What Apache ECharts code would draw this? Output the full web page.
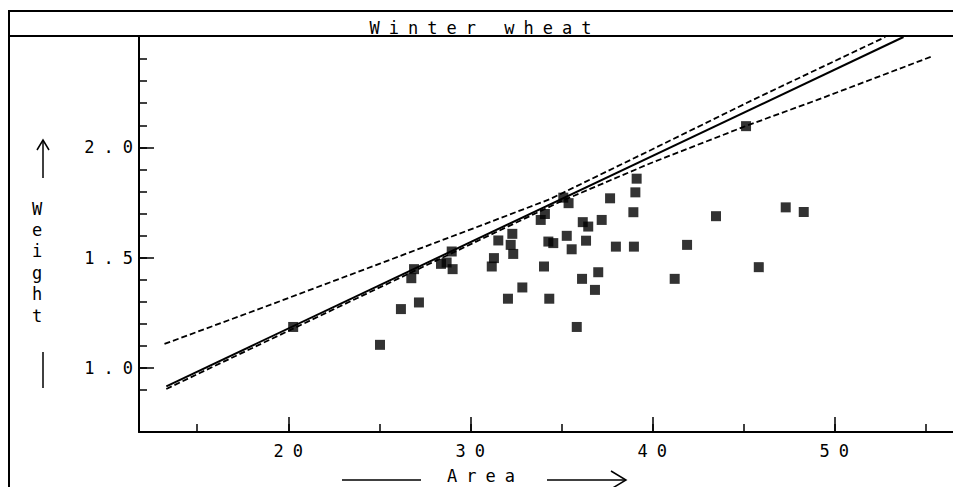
<!DOCTYPE html>
<html>
<head>
<meta charset="utf-8">
<script src="https://cdn.jsdelivr.net/npm/echarts@6/dist/echarts.min.js"></script>
<style>
    html, body { margin: 0; padding: 0; background: #fff; }
    #chart { width: 953px; height: 487px; }
    /* plotter font is very wide, fake it with letter spacing */
    #chart text { letter-spacing: 9px; }
</style>
</head>
<body>
<div id="chart"></div>
<script>
const area = [20.27, 25.04, 26.19, 26.76, 26.91, 27.18, 28.39, 28.7, 28.98, 29.03,
    31.18, 31.3, 31.54, 32.07, 32.22, 32.31, 32.36, 32.86, 33.87, 34.05,
    34.1, 34.29, 34.34, 34.56, 35.11, 35.3, 35.4, 35.57, 35.85, 36.14,
    36.18, 36.36, 36.48, 36.85, 37.03, 37.22, 37.68, 38.0, 38.96, 38.99,
    39.07, 39.14, 41.23, 41.91, 43.5, 45.15, 45.85, 47.33, 48.32];
const weight = [1.186, 1.105, 1.267, 1.407, 1.448, 1.297, 1.472, 1.478, 1.528, 1.448,
    1.46, 1.498, 1.578, 1.314, 1.558, 1.608, 1.517, 1.365, 1.671, 1.46,
    1.698, 1.573, 1.314, 1.566, 1.772, 1.599, 1.747, 1.538, 1.186, 1.404,
    1.661, 1.577, 1.641, 1.354, 1.434, 1.671, 1.769, 1.55, 1.706, 1.55,
    1.796, 1.858, 1.404, 1.558, 1.688, 2.096, 1.457, 1.728, 1.707];

// fitted line and the two dashed curves
const fitArea = [13.3, 53.8];
const fitWeight = [0.917, 2.5];
const upperArea = [13.2, 19, 25, 30.53, 34.37, 39.9, 45.5, 52.8];
const upperWeight = [1.109, 1.286, 1.472, 1.644, 1.765, 1.987, 2.214, 2.5];
const lowerArea = [13.3, 24, 35, 39.9, 45.15, 49.03, 55.3];
const lowerWeight = [0.905, 1.325, 1.756, 1.928, 2.097, 2.214, 2.41];

const xMinor = [15, 20, 25, 30, 35, 40, 45, 50, 55];
const xMajor = [20, 30, 40, 50];
const yMinor = [0.9, 1.0, 1.1, 1.2, 1.3, 1.4, 1.5, 1.6, 1.7, 1.8, 1.9, 2.0, 2.1, 2.2, 2.3, 2.4];
const yMajor = [1.0, 1.5, 2.0];

const font = '"DejaVu Sans Mono", monospace';

function pairs(xs, ys) {
    return xs.map(function (x, i) { return [x, ys[i]]; });
}

let chart = echarts.init(document.getElementById('chart'), null, { renderer: 'svg' });
let option = {
    animation: false,
    backgroundColor: '#fff',
    title: {
        text: 'Winter wheat',
        left: 480,
        textAlign: 'center',
        top: 14,
        textStyle: { fontFamily: font, fontSize: 17, fontWeight: 'normal', color: '#000' }
    },
    grid: { left: 139, right: 0, top: 37, bottom: 55 },
    xAxis: [{
        type: 'value',
        min: 11.8,
        max: 56.52,
        position: 'bottom',
        axisLine: { show: true, lineStyle: { color: '#000', width: 2 } },
        axisTick: { show: true, inside: true, length: 8, customValues: xMinor, lineStyle: { color: '#000', width: 1.5 } },
        axisLabel: { show: false },
        splitLine: { show: false }
    }, {
        type: 'value',
        min: 11.8,
        max: 56.52,
        position: 'bottom',
        axisLine: { show: false },
        axisTick: { show: true, inside: true, length: 15, customValues: xMajor, lineStyle: { color: '#000', width: 1.5 } },
        axisLabel: {
            show: true, customValues: xMajor, margin: 10, padding: [0, 0, 0, 9],
            color: '#000', fontFamily: font, fontSize: 17
        },
        splitLine: { show: false }
    }],
    yAxis: [{
        type: 'value',
        min: 0.71,
        max: 2.5,
        position: 'left',
        axisLine: { show: true, lineStyle: { color: '#000', width: 2 } },
        axisTick: { show: true, inside: true, length: 8, customValues: yMinor, lineStyle: { color: '#000', width: 1.5 } },
        axisLabel: { show: false },
        splitLine: { show: false }
    }, {
        type: 'value',
        min: 0.71,
        max: 2.5,
        position: 'left',
        axisLine: { show: false },
        axisTick: { show: true, inside: true, length: 15, customValues: yMajor, lineStyle: { color: '#000', width: 1.5 } },
        axisLabel: {
            show: true, customValues: yMajor, margin: -3,
            formatter: function (v) { return v.toFixed(1); },
            color: '#000', fontFamily: font, fontSize: 17
        },
        splitLine: { show: false }
    }],
    graphic: [
        // outer frame and title box
        { type: 'rect', silent: true, shape: { x: 9, y: 11, width: 960, height: 490 },
          style: { fill: 'none', stroke: '#000', lineWidth: 2 } },
        { type: 'line', silent: true, shape: { x1: 9, y1: 36, x2: 953, y2: 36 },
          style: { stroke: '#000', lineWidth: 2 } },
        // y name
        { type: 'polyline', silent: true, shape: { points: [[43, 178], [43, 140]] },
          style: { stroke: '#000', lineWidth: 1.5 } },
        { type: 'polyline', silent: true, shape: { points: [[37, 150], [43, 140], [49, 150]] },
          style: { stroke: '#000', lineWidth: 1.5, fill: 'none' } },
        { type: 'text', silent: true, x: 41.5, y: 262,
          style: { text: 'W\ne\ni\ng\nh\nt', align: 'center', verticalAlign: 'middle', lineHeight: 21.4,
                   fontFamily: font, fontSize: 17, fill: '#000' } },
        { type: 'line', silent: true, shape: { x1: 43, y1: 352, x2: 43, y2: 388 },
          style: { stroke: '#000', lineWidth: 1.5 } },
        // x name
        { type: 'line', silent: true, shape: { x1: 342, y1: 480, x2: 421, y2: 480 },
          style: { stroke: '#000', lineWidth: 1.5 } },
        { type: 'text', silent: true, x: 485.5, y: 476,
          style: { text: 'Area', align: 'center', verticalAlign: 'middle',
                   fontFamily: font, fontSize: 17, fill: '#000' } },
        { type: 'line', silent: true, shape: { x1: 547, y1: 480, x2: 626, y2: 480 },
          style: { stroke: '#000', lineWidth: 1.5 } },
        { type: 'polyline', silent: true, shape: { points: [[611, 471], [626, 480], [611, 489]] },
          style: { stroke: '#000', lineWidth: 1.5, fill: 'none' } }
    ],
    series: [{
        type: 'line',
        data: pairs(fitArea, fitWeight),
        showSymbol: false,
        silent: true,
        lineStyle: { color: '#000', width: 2 }
    }, {
        type: 'line',
        data: pairs(upperArea, upperWeight),
        showSymbol: false,
        silent: true,
        lineStyle: { color: '#000', width: 1.8, type: [6, 3] }
    }, {
        type: 'line',
        data: pairs(lowerArea, lowerWeight),
        showSymbol: false,
        silent: true,
        lineStyle: { color: '#000', width: 1.8, type: [6, 3] }
    }, {
        type: 'scatter',
        data: pairs(area, weight),
        symbol: 'rect',
        symbolSize: 10,
        silent: true,
        itemStyle: { color: '#000' }
    }]
};
chart.setOption(option);
</script>
</body>
</html>
